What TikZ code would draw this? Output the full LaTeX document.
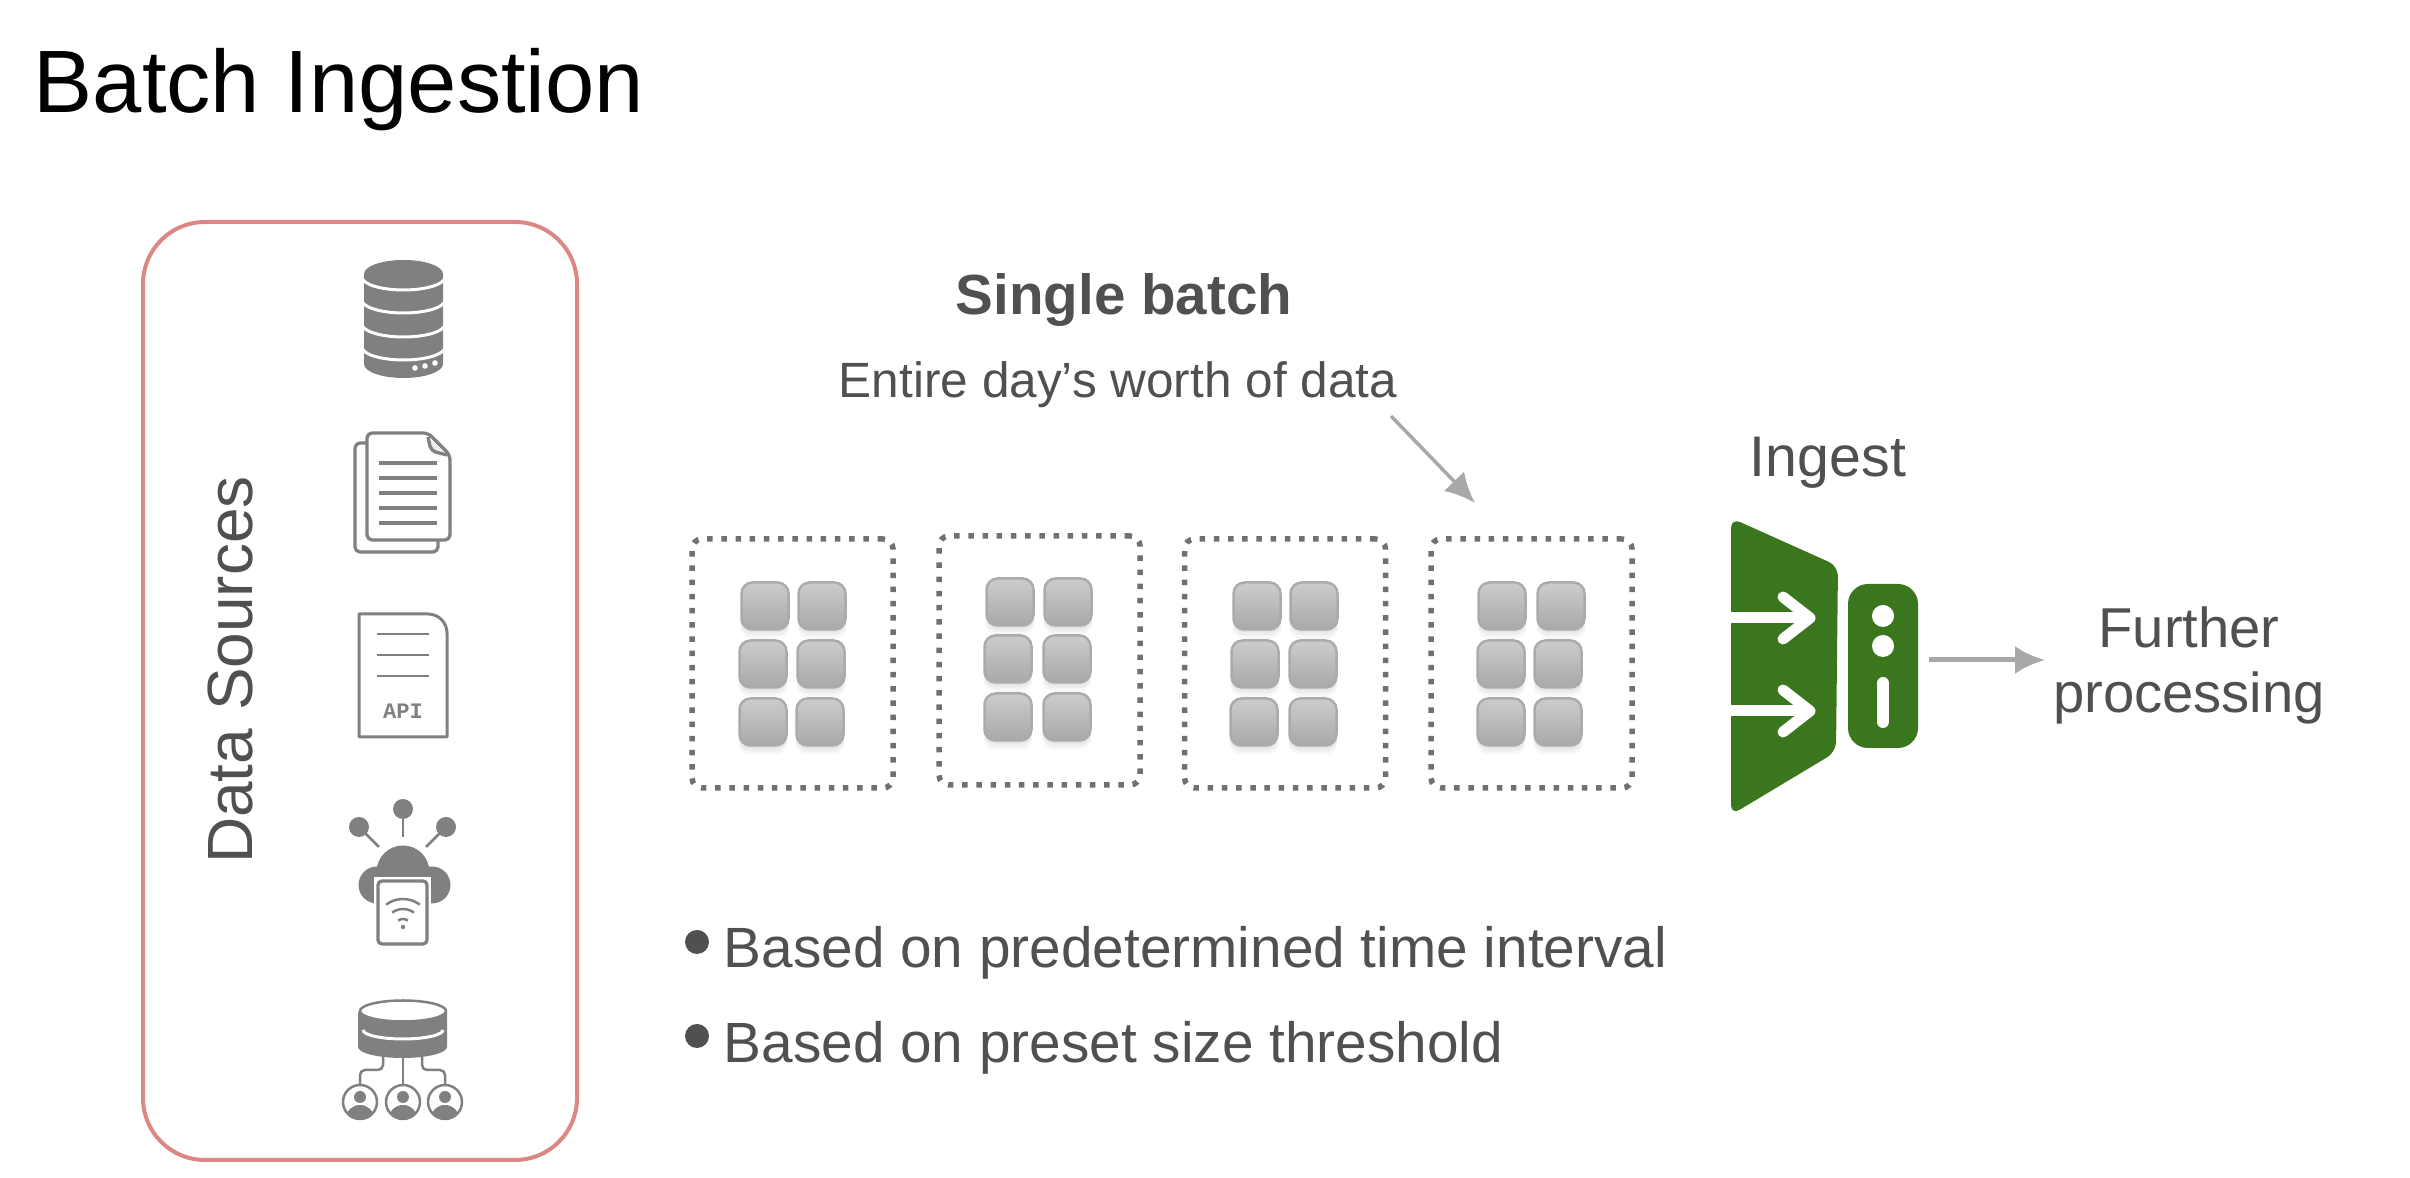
\documentclass[tikz,border=0pt]{standalone}
\usepackage{fontspec}
\setmainfont{Liberation Sans}
\newfontfamily\apifont{Liberation Mono}
\usepackage{tikz}
\usetikzlibrary{arrows.meta}
\usetikzlibrary{shadows}
\definecolor{iconcol}{HTML}{808080}
\definecolor{textcol}{HTML}{505050}
\definecolor{ingestcol}{HTML}{3A761E}
\definecolor{srcborder}{HTML}{DB8783}
\definecolor{arrowcol}{HTML}{A8A8A8}
\definecolor{dotcol}{HTML}{707070}
\tikzset{>={Latex[length=3mm,width=2.8mm]}}
\tikzstyle{title} = [inner sep=0pt,anchor=base west,font=\fontsize{25.2}{30}\selectfont]
\tikzstyle{label} = [inner sep=0pt,anchor=base,text=textcol]
\tikzstyle{srcbox} = [draw=srcborder,line width=0.4mm,rounded corners=6.2mm,
    minimum width=43.4mm,minimum height=93.8mm,inner sep=0pt]
\tikzstyle{batchbox} = [draw=dotcol,line width=0.55mm,dash pattern=on 0.55mm off 0.87mm,
    rounded corners=1mm,minimum width=20.1mm,minimum height=24.9mm,inner sep=0pt]
\tikzstyle{cell} = [rounded corners=1.1mm,draw=black!33,line width=0.25mm,
    top color=black!20,bottom color=black!34,minimum size=4.7mm,inner sep=0pt,
    drop shadow={shadow xshift=0mm,shadow yshift=-0.8mm,shadow scale=1.04,opacity=0.06},
    drop shadow={shadow xshift=0mm,shadow yshift=-0.55mm,shadow scale=1.02,opacity=0.08},
    drop shadow={shadow xshift=0mm,shadow yshift=-0.3mm,opacity=0.1}]
\tikzstyle{pointer} = [->,draw=arrowcol,line width=0.35mm]
\tikzstyle{iconline} = [draw=iconcol,line width=0.33mm,line join=round,rounded corners=0.5mm]
\tikzstyle{cutline} = [white,line width=0.3mm]
\tikzstyle{dot} = [circle,fill=textcol,minimum size=2.4mm,inner sep=0pt]

\begin{document}
\begin{tikzpicture}
\begin{scope}[x=0.1mm,y=-0.1mm]
    \useasboundingbox (0,0) rectangle (2410,1178);
    %title
    \node[title] (head) at (33,113) {Batch Ingestion};
    %sources
    \node[srcbox] (sources) at (360,691) {};
    \node[label,rotate=90,font=\fontsize{18.2}{22}\selectfont] (srclabel) at (252,670) {Data Sources};
    %database
    \fill[iconcol] (364,274) -- (364,364) arc[start angle=180,end angle=360,x radius=3.95mm,y radius=1.4mm]
        -- (443,274) arc[start angle=0,end angle=180,x radius=3.95mm,y radius=1.4mm] -- cycle;
    \foreach \gapy in {277,300,324,347}
        \draw[cutline] (362,\gapy) arc[start angle=180,end angle=360,x radius=4.15mm,y radius=1.3mm];
    \foreach \dotx/\doty in {415/368,425/366,435/363}
        \fill[white] (\dotx,\doty) circle[radius=0.28mm];
    %documents
    \draw[iconline] (367,443) -- (355,443) -- (355,552) -- (438,552) -- (438,540);
    \draw[iconline] (428,433) -- (367,433) -- (367,540) -- (450,540) -- (450,455) -- cycle;
    \draw[iconline,fill=iconcol!15] (428,437) -- (431,451) -- (447,455);
    \foreach \liney in {463,478,493,508,523}
        \draw[draw=iconcol,line width=0.33mm] (379,\liney) -- (437,\liney);
    %api page
    \draw[draw=iconcol,line width=0.3mm,line join=round] (359,614) -- (428,614)
        arc[start angle=90,end angle=0,radius=1.9mm] -- (447,737) -- (359,737) -- cycle;
    \foreach \liney in {634,655,676}
        \draw[draw=iconcol,line width=0.28mm] (377,\liney) -- (429,\liney);
    \node[inner sep=0pt,text=iconcol,font=\apifont\bfseries\fontsize{6.3}{7}\selectfont] (apilabel) at (403,711) {API};
    %cloud device
    \foreach \ballx/\bally/\stemx/\stemy in {403/809/403/837,359/827/379/847,446/827/426/847} {
        \fill[iconcol] (\ballx,\bally) circle[radius=1mm];
        \draw[draw=iconcol,line width=0.28mm] (\ballx,\bally) -- (\stemx,\stemy);
    }
    \fill[iconcol] (403,872) circle[radius=2.65mm] (377,885) circle[radius=1.85mm]
        (432,885) circle[radius=1.85mm] (377,880) rectangle (432,903);
    \fill[white] (374,877) rectangle (431,948);
    \draw[draw=iconcol,line width=0.33mm,rounded corners=0.4mm] (378,881) rectangle (427,944);
    \foreach \wifir in {0.8,1.8,2.8}
        \draw[draw=iconcol,line width=0.25mm] (403,927) ++(53:\wifir mm) arc[start angle=53,end angle=127,radius=\wifir mm];
    \fill[iconcol] (403,927) circle[radius=0.22mm];
    %users database
    \fill[iconcol] (358,1012) -- (358,1047) arc[start angle=180,end angle=360,x radius=4.45mm,y radius=1.1mm]
        -- (447,1012) -- cycle;
    \draw[draw=iconcol,fill=white,line width=0.25mm] (403,1011) ellipse[x radius=4.3mm,y radius=1.05mm];
    \draw[cutline] (363,1030) arc[start angle=180,end angle=360,x radius=4mm,y radius=0.9mm];
    \draw[draw=iconcol,line width=0.25mm] (403,1055) -- (403,1085);
    \draw[draw=iconcol,line width=0.25mm,rounded corners=0.5mm] (383,1055) -- (383,1070) -- (360,1070) -- (360,1085);
    \draw[draw=iconcol,line width=0.25mm,rounded corners=0.5mm] (422,1055) -- (422,1070) -- (445,1070) -- (445,1085);
    \foreach \userx in {360,403,445} {
        \begin{scope}
            \clip (\userx,1102) circle[radius=1.7mm];
            \fill[iconcol] (\userx,1097) circle[radius=0.6mm];
            \fill[iconcol] (\userx,1118) ellipse[x radius=1.4mm,y radius=1.3mm];
        \end{scope}
        \draw[draw=iconcol,line width=0.25mm] (\userx,1102) circle[radius=1.7mm];
    }
    %batches
    \node[batchbox] (batch1) at (792.5,663.5) {};
    \node[batchbox] (batch2) at (1039.5,660.5) {};
    \node[batchbox] (batch3) at (1285,663.5) {};
    \node[batchbox] (batch4) at (1531.5,663.5) {};
    \foreach \cellname/\cx/\cy in {a1/765/606,a2/822/606,a3/763/664,a4/821/664,a5/763/722,a6/820/722,
        b1/1010/602,b2/1068/602,b3/1008/659,b4/1067/659,b5/1008/717,b6/1067/717,
        c1/1257/606,c2/1314/606,c3/1255/664,c4/1313/664,c5/1254/722,c6/1313/722,
        d1/1502/606,d2/1561/606,d3/1501/664,d4/1558/664,d5/1501/722,d6/1558/722}
        \node[cell] (\cellname) at (\cx,\cy) {};
    %batch labels
    \node[label,font=\bfseries\fontsize{16.1}{20}\selectfont] (single) at (1124,315) {Single batch};
    \node[label,font=\fontsize{14.1}{18}\selectfont] (worth) at (1118,398) {Entire day’s worth of data};
    \coordinate (worthtail) at (1391,416);
    \coordinate (worthtip) at (1475,503);
    \draw[pointer] (worthtail) -- (worthtip);
    %ingest
    \node[label,font=\fontsize{16.3}{20}\selectfont] (ingest) at (1828,477) {Ingest};
    \fill[ingestcol,rounded corners=1mm] (1731,518) -- (1838,566) -- (1836,752) -- (1731,815) -- cycle;
    \foreach \arry in {618,711} {
        \draw[white,line width=1.1mm] (1728,\arry) -- (1808,\arry);
        \draw[white,line width=1.1mm,line cap=round,line join=round]
            (1783,\arry-21) -- (1810,\arry) -- (1783,\arry+21);
    }
    \node[fill=ingestcol,rounded corners=2mm,minimum width=7mm,minimum height=16.4mm,inner sep=0pt] (server) at (1883,666) {};
    \fill[white] (1883,616) circle[radius=1.1mm] (1883,646) circle[radius=1.1mm];
    \draw[white,line width=1.2mm,line cap=round] (1883,683) -- (1883,722);
    %further processing
    \node[label,anchor=center,align=center,font=\fontsize{16}{18.5}\selectfont] (further) at (2189,665) {Further\\processing};
    \coordinate (furthertail) at (1929,660);
    \coordinate (furthertip) at (2045,660);
    \draw[pointer,line width=0.5mm] (furthertail) -- (furthertip);
    %bullets
    \node[dot] (bulleta) at (697,942) {};
    \node[dot] (bulletb) at (697,1036) {};
    \node[label,anchor=base west,font=\fontsize{16.15}{20}\selectfont] (timetext) at (723,968) {Based on predetermined time interval};
    \node[label,anchor=base west,font=\fontsize{16.15}{20}\selectfont] (sizetext) at (723,1063) {Based on preset size threshold};
\end{scope}
\end{tikzpicture}
\end{document}
